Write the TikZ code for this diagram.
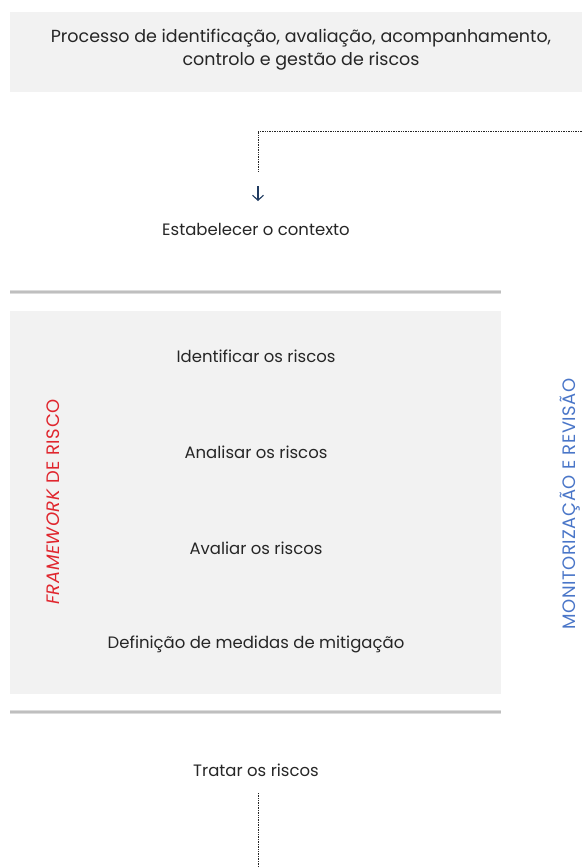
\documentclass[tikz,border=0pt]{standalone}
\usepackage{fontspec}
\setmainfont{Poppins}
\newfontfamily\sidefont[LetterSpace=3]{Poppins}
\usetikzlibrary{arrows.meta}
\definecolor{boxgray}{HTML}{F2F2F2}
\definecolor{linegray}{HTML}{BFBFBF}
\definecolor{lineedge}{HTML}{DCDCDC}
\definecolor{txt}{HTML}{262626}
\definecolor{fwred}{HTML}{E0262E}
\definecolor{monblue}{HTML}{4A76C8}
\definecolor{arrowblue}{HTML}{1F3A60}
\tikzset{
  lbl/.style={font=\fontsize{16.5}{20}\selectfont, text=txt, inner sep=0pt, anchor=center},
  sidelbl/.style={font=\sidefont\fontsize{18}{20}\selectfont, inner sep=0pt, rotate=90, anchor=center},
  dotline/.style={densely dotted, line width=0.7pt, draw=txt},
  sepline/.style={line width=4pt, draw=lineedge},
  sepcore/.style={line width=1.4pt, draw=linegray},
}
\begin{document}
\begin{tikzpicture}[x=1pt,y=-1pt]
\useasboundingbox (0,0) rectangle (582,868);
% boxes
\fill[boxgray] (10,12) rectangle (582,92);
\fill[boxgray] (10,311) rectangle (501,694);
% separator lines
\draw[sepline] (10,292) -- (501,292);
\draw[sepcore] (10,292) -- (501,292);
\draw[sepline] (10,712) -- (501,712);
\draw[sepcore] (10,712) -- (501,712);
% texts
\node[lbl, font=\fontsize{17.5}{23}\selectfont, align=center] (title) at (301,50) {Processo de identificação, avaliação, acompanhamento,\\controlo e gestão de riscos};
\node[lbl] (ctx) at (256,229) {Estabelecer o contexto};
\node[lbl] (ident) at (256,356) {Identificar os riscos};
\node[lbl] (anal) at (256,452) {Analisar os riscos};
\node[lbl] (aval) at (256,548) {Avaliar os riscos};
\node[lbl] (def) at (256,644) {Definição de medidas de mitigação};
\node[lbl] (trat) at (256,770) {Tratar os riscos};
\node[sidelbl, text=fwred] (fw) at (53,502) {\textit{FRAMEWORK} DE RISCO};
\node[sidelbl, text=monblue] (mon) at (570,504) {MONITORIZAÇÃO E REVISÃO};
% connectors
\coordinate (rin) at (582,131);
\coordinate (dend) at (258,172);
\coordinate (atop) at (258,186);
\coordinate (abot) at (258,201);
\coordinate (bstart) at (258,793);
\coordinate (bend) at (258,868);
\draw[dotline] (rin) -| (dend);
\draw[arrowblue, line width=1.1pt, -{Straight Barb[length=5pt,width=11pt]}] (atop) -- (abot);
\draw[dotline] (bstart) -- (bend);
\end{tikzpicture}
\end{document}
